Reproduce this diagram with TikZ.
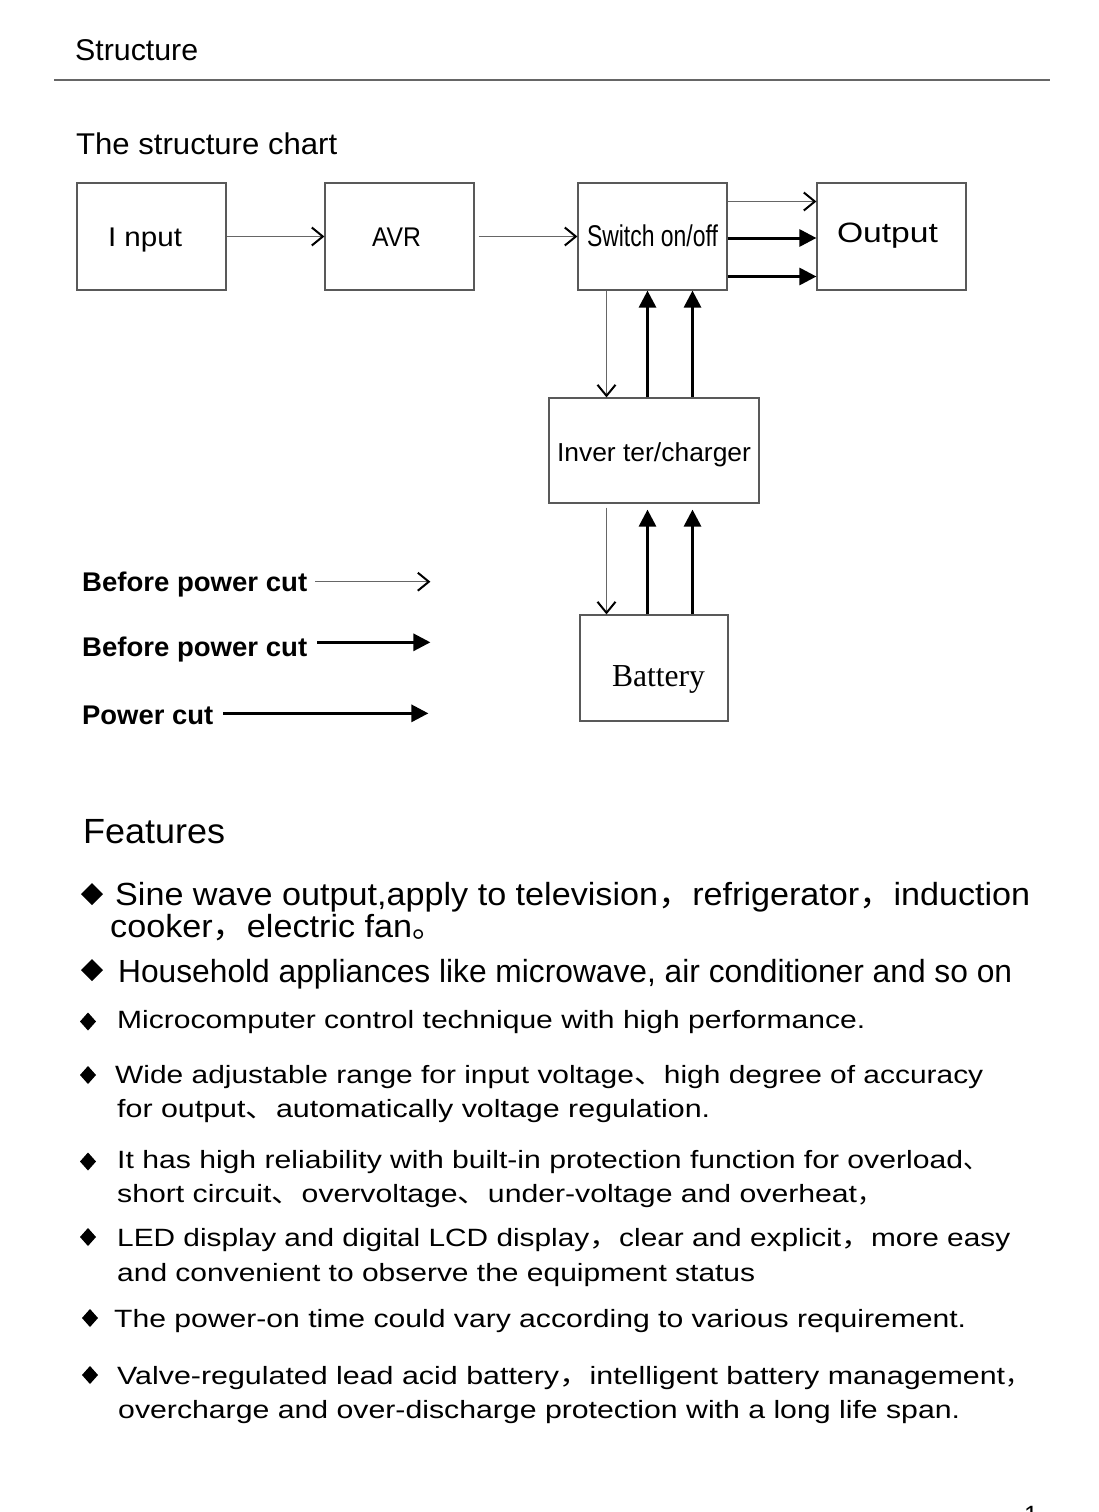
\documentclass[tikz,border=0pt]{standalone}
\usepackage{fontspec}
\setmainfont{Liberation Sans}
\newfontfamily\seriffont{Liberation Serif}
\newfontfamily\cjkfont{Noto Sans CJK SC}
\usepackage{graphicx}
\usetikzlibrary{arrows.meta,positioning}

\newcommand\fs[1]{\fontsize{#1bp}{#1bp}\selectfont}
\newcommand\fitw[2]{\resizebox{#1bp}{\height}{#2}}
\newcommand\zc{{\cjkfont ，}}
\newcommand\dn{{\cjkfont 、}}
\newcommand\jd{{\cjkfont 。}}
% diamond bullet: coordinate, half width, half height
\newcommand\featdot[3]{\fill (#1) +(0,-#3) -- +(#2,0) -- +(0,#3) -- +(-#2,0) -- cycle;}

\tikzset{
  box/.style={draw=black!65, line width=1.2bp, minimum width=149bp, minimum height=107bp,
    inner sep=0pt, text height=20bp, text depth=0pt},
  txt/.style={inner sep=0pt, anchor=base west},
  thinarr/.style={draw=black!60, line width=1.3bp,
    -{Straight Barb[length=11bp,width=18bp,line width=2bp,color=black]}},
  thickarr/.style={line width=3bp, -{Triangle[length=17bp,width=17bp]}}
}

\begin{document}
\begin{tikzpicture}[x=1bp,y=-1bp]
\useasboundingbox (0,0) rectangle (1098,1512);

% heading
\node[txt] (head) at (75,61) {\fs{30}\fitw{123}{Structure}};
\draw[black!60,line width=1.5bp] (54,80) -- (1050,80);
\node[txt] (chart) at (76,155) {\fs{30}\fitw{261}{The structure chart}};

% blocks
\node[box] (inp) at (151.5,236.5) {\fs{27}\fitw{74}{I nput}\kern13bp};
\node[box] (avr) at (399.5,236.5) {\fs{27}\fitw{49}{AVR}\kern6bp};
\node[box] (sw) at (652.5,236.5) {\fs{30}\fitw{131}{Switch on/off}};
\node[box] (out) at (891.5,236.5) {\raisebox{4.5bp}{\fs{28}\fitw{101}{Output}}\kern8bp};
\node[box, minimum width=210bp, minimum height=105bp] (inv) at (654,450.5)
  {\raisebox{-1bp}{\fs{26}\fitw{194}{Inver ter/charger}}};
\node[box, minimum width=148bp, minimum height=106bp] (bat) at (654,668)
  {\kern9bp\raisebox{-8.7bp}{\seriffont\fs{32}\fitw{93}{Battery}}};

% connectors
\draw[thinarr] (inp) -- (avr);
\draw[thinarr] ([xshift=4bp]avr.east) -- (sw.west);
\draw[thinarr] ([yshift=35bp]sw.east) -- ([yshift=35bp]out.west);
\draw[thickarr] ([yshift=-1.5bp]sw.east) -- ([yshift=-1.5bp]out.west);
\draw[thickarr] ([yshift=-40bp]sw.east) -- ([yshift=-40bp]out.west);

\coordinate (d1) at ([xshift=-46bp]sw.south);
\coordinate (u1) at ([xshift=-5bp]sw.south);
\coordinate (u2) at ([xshift=40bp]sw.south);
\draw[thinarr] (d1) -- (d1 |- inv.north);
\draw[thickarr] (u1 |- inv.north) -- (u1);
\draw[thickarr] (u2 |- inv.north) -- (u2);

\draw[thinarr] ([yshift=-4bp]d1 |- inv.south) -- (d1 |- bat.north);
\draw[thickarr] (u1 |- bat.north) -- ([yshift=-6bp]u1 |- inv.south);
\draw[thickarr] (u2 |- bat.north) -- ([yshift=-6bp]u2 |- inv.south);

% legend
\node[txt] (leg1) at (82,591) {\fs{27}\bfseries\fitw{225}{Before power cut}};
\node[txt] (leg2) at (82,656) {\fs{27}\bfseries\fitw{225}{Before power cut}};
\node[txt] (leg3) at (82,724) {\fs{27}\bfseries\fitw{131}{Power cut}};
\draw[thinarr] ([xshift=8bp,yshift=2.3bp]leg1.east) -- ++(115,0);
\draw[thickarr] ([xshift=10bp,yshift=6.7bp]leg2.east) -- ++(113,0);
\draw[thickarr] ([xshift=10bp,yshift=1.5bp]leg3.east) -- ++(205,0);

% features
\node[txt] (feat) at (83,843) {\fs{35}\fitw{142}{Features}};

\coordinate (b1) at (92,894);
\coordinate (b2) at (92,970);
\coordinate (b3) at (88,1021.5);
\coordinate (b4) at (88,1075);
\coordinate (b5) at (88,1161.5);
\coordinate (b6) at (88,1237);
\coordinate (b7) at (90,1318);
\coordinate (b8) at (90,1375);
\featdot{b1}{11}{11}
\featdot{b2}{11}{11}
\foreach \b in {b3,b4,b5,b6,b7,b8}{
  \featdot{\b}{8}{9}
}

\node[txt] (f1) at (115,905) {\fs{32}\fitw{915}{Sine wave output,apply to television\zc refrigerator\zc induction}};
\node[txt] (f1b) at (110,937) {\fs{32}\fitw{302}{cooker\zc electric fan}\jd};
\node[txt] (f2) at (118,982) {\fs{32}\fitw{894}{Household appliances like microwave, air conditioner and so on}};

\node[txt] (f3) at (117,1028) {\fs{25}\fitw{748}{Microcomputer control technique with high performance.}};

\node[txt] (f4) at (115,1083) {\fs{25}\fitw{868}{Wide adjustable range for input voltage\dn high degree of accuracy}};
\node[txt] (f4b) at (117,1117) {\fs{25}\fitw{593}{for output\dn automatically voltage regulation.}};

\node[txt] (f5) at (117,1168) {\fs{25}\fitw{846}{It has high reliability with built-in protection function for overload}\dn};
\node[txt] (f5b) at (117,1202) {\fs{25}\fitw{740}{short circuit\dn overvoltage\dn under-voltage and overheat}\zc};

\node[txt] (f6) at (117,1246) {\fs{25}\fitw{893}{LED display and digital LCD display\zc clear and explicit\zc more easy}};
\node[txt] (f6b) at (117,1281) {\fs{25}\fitw{638}{and convenient to observe the equipment status}};

\node[txt] (f7) at (114,1327) {\fs{25}\fitw{852}{The power-on time could vary according to various requirement.}};

\node[txt] (f8) at (117,1384) {\fs{25}\fitw{888}{Valve-regulated lead acid battery\zc intelligent battery management}\zc};
\node[txt] (f8b) at (118,1418) {\fs{25}\fitw{842}{overcharge and over-discharge protection with a long life span.}};

\node[txt] (page) at (1024,1523) {\fs{25}1};
\end{tikzpicture}
\end{document}
